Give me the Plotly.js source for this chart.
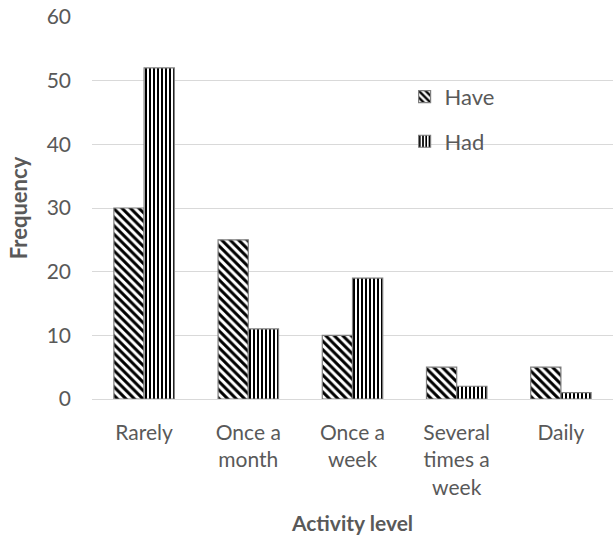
<!DOCTYPE html>
<html>
<head>
<meta charset="utf-8">
<script src="https://cdn.plot.ly/plotly-3.0.1.min.js"></script>
<style>
  html, body { margin: 0; padding: 0; background: #fff; }
  #chart { width: 614px; height: 537px; }
</style>
</head>
<body>
<div id="chart"></div>
<script>
// Activity level categories (x axis)
const categories = ["Rarely", "Once a<br>month", "Once a<br>week", "Several<br>times a<br>week", "Daily"];
// Frequency counts for each group
const haveValues = [30, 25, 10, 5, 5];
const hadValues = [52, 11, 19, 2, 1];
const yTicks = [0, 10, 20, 30, 40, 50, 60];

const font = "Lato, 'Open Sans', sans-serif";
const textGrey = "#595959";

const traces = [
  {
    type: "bar",
    name: "Have",
    x: categories,
    y: haveValues,
    legendgroup: "have",
    marker: {
      color: "#ffffff",
      line: { color: "#7f7f7f", width: 1.2 },
      pattern: { shape: "\\", fgcolor: "#000000", bgcolor: "#ffffff", fgopacity: 1, size: 6, solidity: 0.5, fillmode: "replace" }
    }
  },
  {
    type: "bar",
    name: "Had",
    x: categories,
    y: hadValues,
    legendgroup: "had",
    marker: {
      color: "#ffffff",
      line: { color: "#7f7f7f", width: 1.2 },
      pattern: { shape: "|", fgcolor: "#000000", bgcolor: "#ffffff", fgopacity: 1, size: 4, solidity: 0.5, fillmode: "replace" }
    }
  }
];

const layout = {
  width: 614,
  height: 537,
  margin: { l: 92, r: 1, t: 17, b: 138 },
  paper_bgcolor: "#ffffff",
  plot_bgcolor: "#ffffff",
  font: { family: font, size: 21, color: textGrey },
  barmode: "group",
  bargap: 0.42,
  bargroupgap: 0,
  showlegend: true,
  legend: {
    x: 0.6, y: 0.846, xanchor: "left", yanchor: "top",
    bgcolor: "rgba(0,0,0,0)",
    font: { family: font, size: 22, color: textGrey },
    traceorder: "grouped",
    tracegroupgap: 13,
    itemwidth: 30
  },
  xaxis: {
    type: "category",
    showgrid: false,
    showline: false,
    zeroline: false,
    ticks: "",
    ticklabelstandoff: 19,
    tickfont: { family: font, size: 21, color: textGrey },
    title: { text: "Activity level", font: { family: font, size: 21, color: textGrey, weight: "bold" }, standoff: 18 }
  },
  yaxis: {
    range: [0, 60],
    tickvals: yTicks,
    showgrid: true,
    gridcolor: "#d9d9d9",
    gridwidth: 1,
    zeroline: true,
    zerolinecolor: "#d9d9d9",
    zerolinewidth: 1,
    showline: false,
    ticks: "",
    ticklabelstandoff: 20,
    tickfont: { family: font, size: 21, color: textGrey },
    title: { text: "Frequency", font: { family: font, size: 22, color: textGrey, weight: "bold" }, standoff: 12 }
  }
};

Plotly.newPlot("chart", traces, layout, { displayModeBar: false, staticPlot: true });
</script>
</body>
</html>
